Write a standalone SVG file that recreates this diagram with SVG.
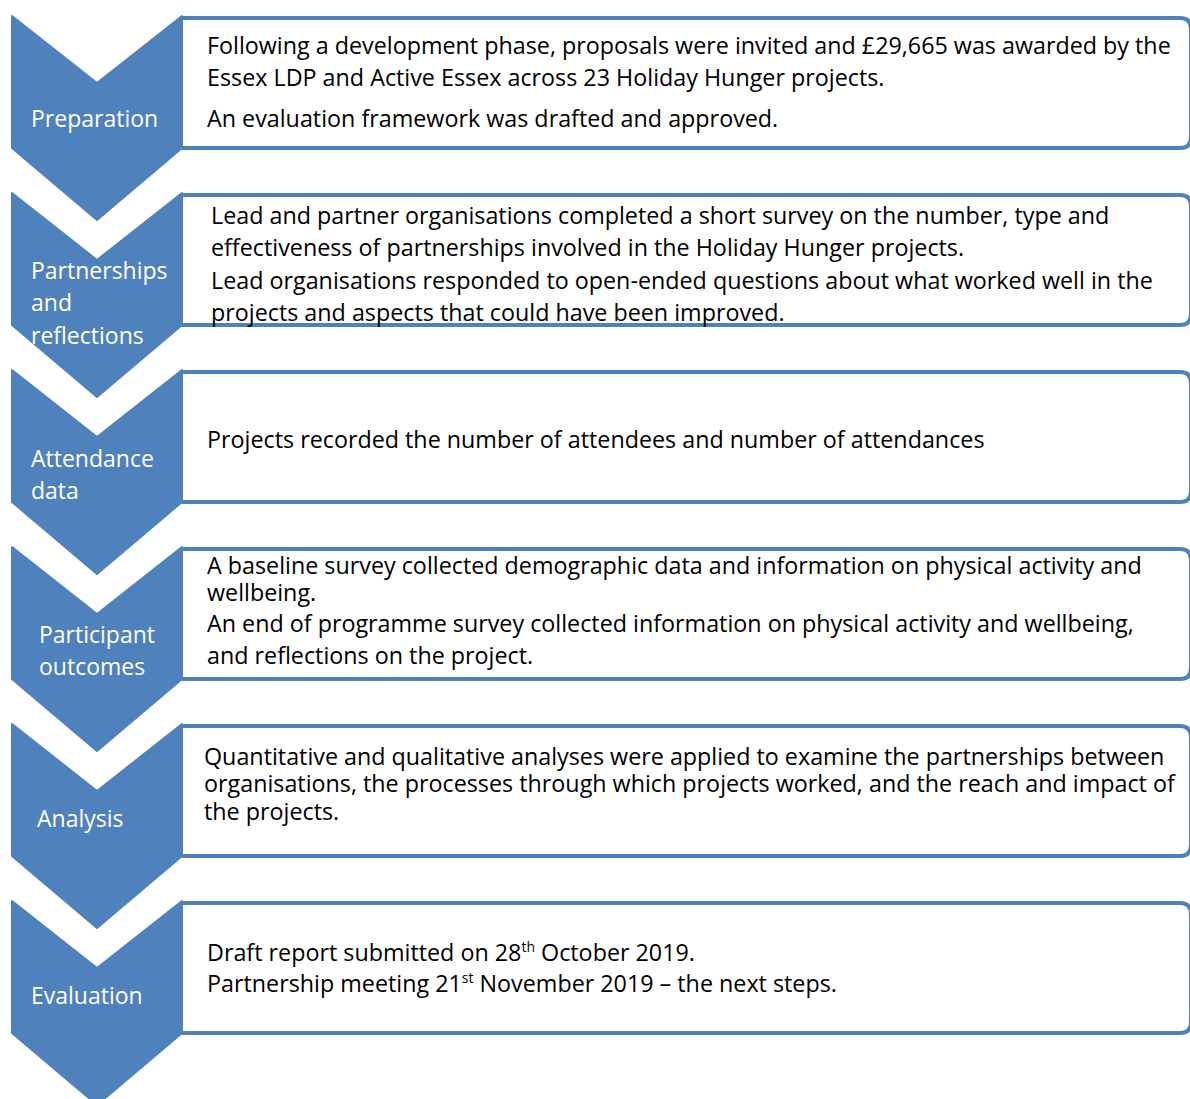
<svg xmlns="http://www.w3.org/2000/svg" width="1190" height="1099" viewBox="0 0 1190 1099">
<style>
.chev{fill:#4F81BD;stroke:#4F81BD;stroke-width:2;stroke-linejoin:round}
.box{fill:#FFFFFF;stroke:#4F81BD;stroke-width:4}
.lbl{font-family:"Open Sans","Liberation Sans",sans-serif;font-size:23px;fill:#FFFFFF}
.txt{font-family:"Open Sans","Liberation Sans",sans-serif;font-size:23.3px;fill:#000000}
.sup{font-size:14px}
</style>
<rect width="1190" height="1099" fill="#FFFFFF"/>
<g id="connectors"></g>

<g id="step1">
<path class="box" d="M182,18 H1180 Q1191,18 1191,29 V137 Q1191,148 1180,148 H182"/>
<path class="chev" d="M12,16 L97,83 L182,16 L182,148 L97,220 L12,148 Z"/>
<text class="lbl" x="31" y="127">Preparation</text>
<text class="txt" x="207" y="54">Following a development phase, proposals were invited and £29,665 was awarded by the</text>
<text class="txt" x="207" y="86">Essex LDP and Active Essex across 23 Holiday Hunger projects.</text>
<text class="txt" x="207" y="127">An evaluation framework was drafted and approved.</text>
</g>

<g id="step2">
<path class="box" d="M182,195 H1180 Q1191,195 1191,206 V314 Q1191,325 1180,325 H182"/>
<path class="chev" d="M12,193 L97,260 L182,193 L182,325 L97,397 L12,325 Z"/>
<text class="lbl" x="31" y="279">Partnerships</text>
<text class="lbl" x="31" y="311">and</text>
<text class="lbl" x="31" y="344">reflections</text>
<text class="txt" x="211" y="224">Lead and partner organisations completed a short survey on the number, type and</text>
<text class="txt" x="211" y="256">effectiveness of partnerships involved in the Holiday Hunger projects.</text>
<text class="txt" x="211" y="289">Lead organisations responded to open-ended questions about what worked well in the</text>
<text class="txt" x="211" y="321">projects and aspects that could have been improved.</text>
</g>

<g id="step3">
<path class="box" d="M182,372 H1180 Q1191,372 1191,383 V491 Q1191,502 1180,502 H182"/>
<path class="chev" d="M12,370 L97,437 L182,370 L182,502 L97,574 L12,502 Z"/>
<text class="lbl" x="31" y="467">Attendance</text>
<text class="lbl" x="31" y="499">data</text>
<text class="txt" x="207" y="448">Projects recorded the number of attendees and number of attendances</text>
</g>

<g id="step4">
<path class="box" d="M182,549 H1180 Q1191,549 1191,560 V668 Q1191,679 1180,679 H182"/>
<path class="chev" d="M12,547 L97,614 L182,547 L182,679 L97,751 L12,679 Z"/>
<text class="lbl" x="39" y="643">Participant</text>
<text class="lbl" x="39" y="675">outcomes</text>
<text class="txt" x="207" y="574">A baseline survey collected demographic data and information on physical activity and</text>
<text class="txt" x="207" y="601">wellbeing.</text>
<text class="txt" x="207" y="632">An end of programme survey collected information on physical activity and wellbeing,</text>
<text class="txt" x="207" y="664">and reflections on the project.</text>
</g>

<g id="step5">
<path class="box" d="M182,726 H1180 Q1191,726 1191,737 V845 Q1191,856 1180,856 H182"/>
<path class="chev" d="M12,724 L97,791 L182,724 L182,856 L97,928 L12,856 Z"/>
<text class="lbl" x="37" y="827">Analysis</text>
<text class="txt" x="204" y="765">Quantitative and qualitative analyses were applied to examine the partnerships between</text>
<text class="txt" x="204" y="792">organisations, the processes through which projects worked, and the reach and impact of</text>
<text class="txt" x="204" y="820">the projects.</text>
</g>

<g id="step6">
<path class="box" d="M182,903 H1180 Q1191,903 1191,914 V1022 Q1191,1033 1180,1033 H182"/>
<path class="chev" d="M12,901 L97,968 L182,901 L182,1033 L97,1105 L12,1033 Z"/>
<text class="lbl" x="31" y="1004">Evaluation</text>
<text class="txt" x="207" y="961">Draft report submitted on 28<tspan class="sup" dy="-9">th</tspan><tspan dy="9"> October 2019.</tspan></text>
<text class="txt" x="207" y="992">Partnership meeting 21<tspan class="sup" dy="-9">st</tspan><tspan dy="9"> November 2019 – the next steps.</tspan></text>
</g>
</svg>
